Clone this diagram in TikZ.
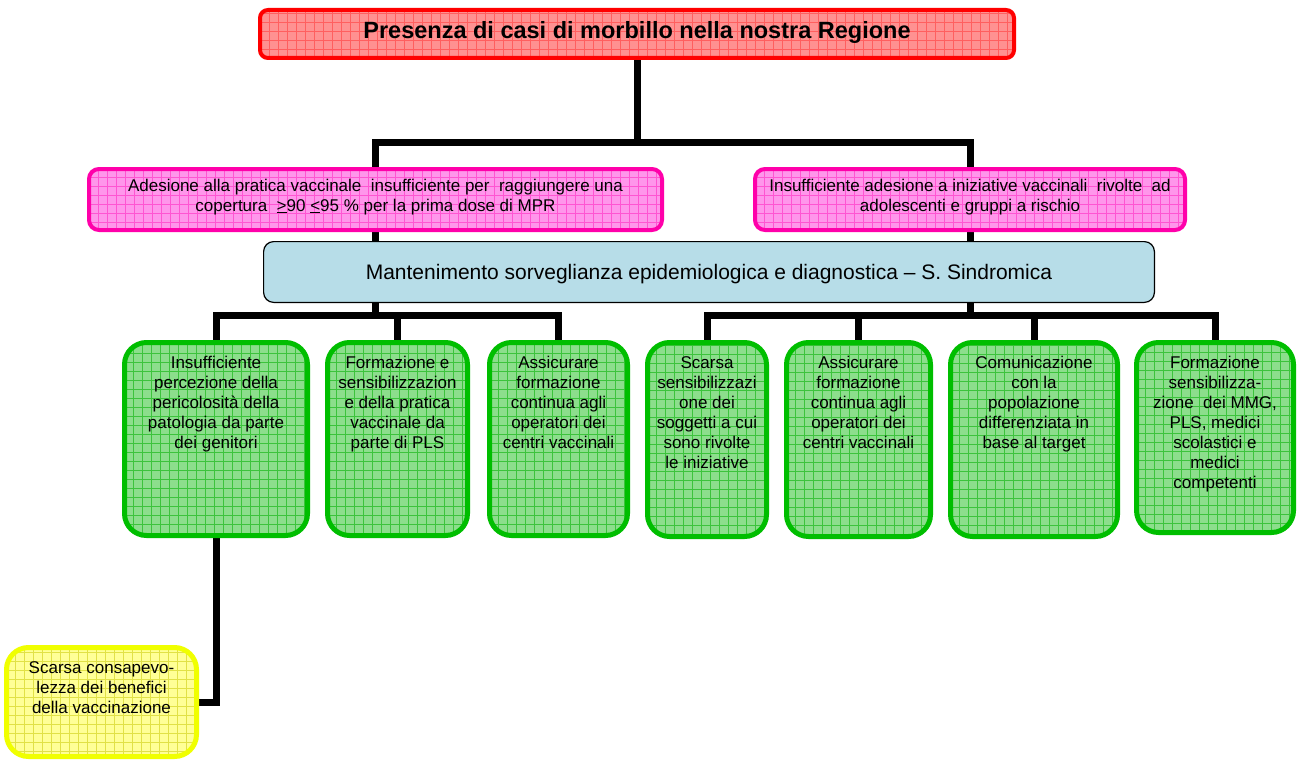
\documentclass[tikz,border=0pt]{standalone}
\usepackage{fontspec}
\setmainfont{Liberation Sans}
\usetikzlibrary{calc}
\pgfdeclarelayer{canvas}
\pgfdeclarelayer{bg}
\pgfsetlayers{canvas,bg,main}

\definecolor{tred}{RGB}{255,145,145}
\definecolor{tredgrid}{RGB}{255,95,95}
\definecolor{pinkfill}{RGB}{255,150,235}
\definecolor{pinkgrid}{RGB}{255,85,210}
\definecolor{pinkline}{RGB}{255,0,170}
\definecolor{gfill}{RGB}{140,222,140}
\definecolor{ggrid}{RGB}{60,195,60}
\definecolor{gline}{RGB}{0,190,0}
\definecolor{yfill}{RGB}{255,255,150}
\definecolor{ygrid}{RGB}{225,225,70}
\definecolor{yline}{RGB}{240,255,0}
\definecolor{bfill}{RGB}{183,221,232}

\newcommand{\mkdiagbox}[8]{%
  \pgfmathsetmacro{\bxw}{#5-#3}%
  \pgfmathsetmacro{\bxh}{#6-#4}%
  \node[#1, anchor=north west, inner sep=0pt, outer sep=0pt] (#2) at (#3,#4)
    {\begin{minipage}[c][\bxh pt][t]{\bxw pt}\centering\vspace*{#7pt}\strut#8\end{minipage}};}

\tikzset{
  gridbox/.style={path picture={\draw[line width=0.6pt, draw=#1]
      (path picture bounding box.south west) grid[step=9pt]
      (path picture bounding box.north east);}},
  titlebox/.style={draw=red, fill=tred, line width=4pt, rounded corners=8pt,
      gridbox=tredgrid, font=\fontsize{23.5}{28}\selectfont\bfseries},
  pinkbox/.style={draw=pinkline, fill=pinkfill, line width=4pt, rounded corners=10pt,
      gridbox=pinkgrid, font=\fontsize{17}{20}\selectfont},
  bluebox/.style={draw=black, fill=bfill, line width=1.2pt, rounded corners=10pt,
      font=\fontsize{21}{25}\selectfont},
  greenbox/.style={draw=gline, fill=gfill, line width=5pt, rounded corners=22pt,
      gridbox=ggrid, font=\fontsize{17}{20}\selectfont},
  yellowbox/.style={draw=yline, fill=yfill, line width=5pt, rounded corners=22pt,
      gridbox=ygrid, font=\fontsize{17}{20}\selectfont},
  conn/.style={line width=7pt, draw=black}
}

\begin{document}
\begin{tikzpicture}[x=1pt,y=-1pt]
\begin{pgfonlayer}{canvas}
\fill[white] (0,0) rectangle (1298,760);
\end{pgfonlayer}
\useasboundingbox (0,0) rectangle (1298,760);

\mkdiagbox{titlebox}{title}{260}{10}{1014}{58}{8.5}{Presenza di casi di morbillo nella nostra Regione}
\mkdiagbox{pinkbox}{pinkL}{89}{169}{662}{230}{8}{Adesione alla pratica vaccinale~ insufficiente per~ raggiungere una\\copertura~ \underline{>}90 \underline{<}95 \% per la prima dose di MPR}
\mkdiagbox{pinkbox}{pinkR}{755}{169}{1185}{230}{8}{Insufficiente adesione a iniziative vaccinali~ rivolte~ ad\\adolescenti e gruppi a rischio}
\mkdiagbox{bluebox}{blue}{263.6}{241.6}{1154.4}{302.4}{20}{Mantenimento sorveglianza epidemiologica e diagnostica – S. Sindromica}

\mkdiagbox{greenbox}{g1}{124.5}{342.5}{307.5}{535.5}{11.5}{Insufficiente\\percezione della\\pericolosità della\\patologia da parte\\dei genitori}
\mkdiagbox{greenbox}{g2}{327.5}{342.5}{467.5}{535.5}{11.5}{Formazione e\\sensibilizzazion\\e della pratica\\vaccinale da\\parte di PLS}
\mkdiagbox{greenbox}{g3}{489.5}{342.5}{627.5}{535.5}{11.5}{Assicurare\\formazione\\continua agli\\operatori dei\\centri vaccinali}
\mkdiagbox{greenbox}{g4}{647.5}{342.5}{766.5}{536.5}{11.5}{Scarsa\\sensibilizzazi\\one dei\\soggetti a cui\\sono rivolte\\le iniziative}
\mkdiagbox{greenbox}{g5}{786.5}{342.5}{930.5}{536.5}{11.5}{Assicurare\\formazione\\continua agli\\operatori dei\\centri vaccinali}
\mkdiagbox{greenbox}{g6}{950.5}{342.5}{1117.5}{536.5}{11.5}{Comunicazione\\con la\\popolazione\\differenziata in\\base al target}
\mkdiagbox{greenbox}{g7}{1136.5}{342.5}{1293.5}{532.5}{11.5}{Formazione\\sensibilizza-\\zione~ dei MMG,\\PLS, medici\\scolastici e\\medici\\competenti}

\mkdiagbox{yellowbox}{yel}{6.5}{647.5}{196.5}{756.5}{11.5}{Scarsa consapevo-\\lezza dei benefici\\della vaccinazione}

\coordinate (j1) at (637,142);
\coordinate (b1) at (375.5,315);
\coordinate (b2) at (970,315);

\begin{pgfonlayer}{bg}
\draw[conn] (title.south) -- (title.south |- j1);
\draw[conn] (pinkL.north) |- (pinkR.north |- j1) -- (pinkR.north);
\draw[conn] (pinkL.south) -- (pinkL.south |- blue.north);
\draw[conn] (pinkR.south) -- (pinkR.south |- blue.north);
\draw[conn] (blue.south -| b1) -- (b1);
\draw[conn] (blue.south -| b2) -- (b2);
\draw[conn] (g1.north) |- (b1) -| (g3.north);
\draw[conn] (b1) -| (g2.north);
\draw[conn] (g4.north) |- (b2) -| (g7.north);
\draw[conn] (b2) -| (g5.north);
\draw[conn] (b2) -| (g6.north);
\draw[conn] (g1.south) |- (yel.east);
\end{pgfonlayer}
\end{tikzpicture}
\end{document}
